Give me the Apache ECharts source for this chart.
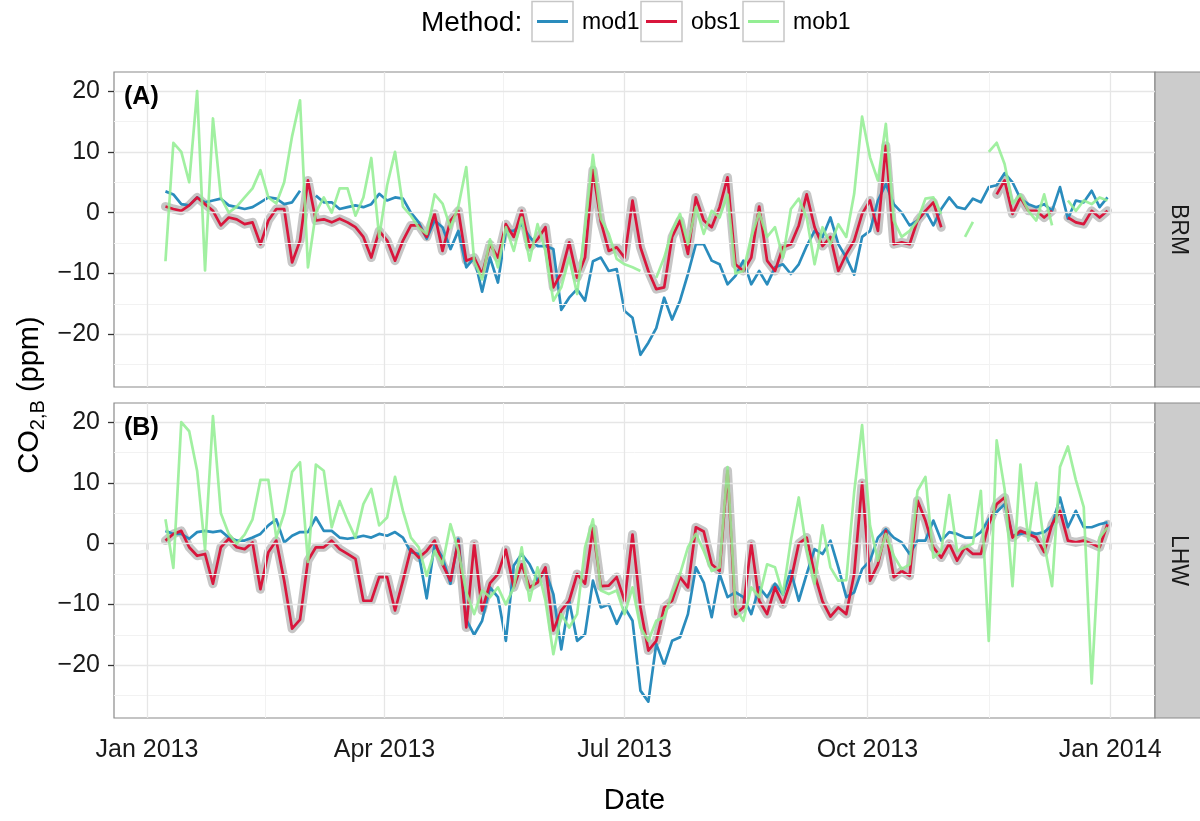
<!DOCTYPE html>
<html>
<head>
<meta charset="utf-8">
<script src="https://cdn.jsdelivr.net/npm/echarts@6/dist/echarts.min.js"></script>
<style>
  html, body { margin: 0; padding: 0; background: #fff; }
  #chart { width: 1200px; height: 821px; }
</style>
</head>
<body>
<div id="chart"></div>
<script>
// sampling of the daily series: every 3rd day from 8 Jan 2013
const firstDay = '2013-01-08';
const stepDays = 3;
const nDays = 120;

const sites = ['BRM', 'LHW'];
const panelTags = ['(A)', '(B)'];
const methods = ['mod1', 'obs1', 'mob1'];
const methodColors = ['#2a8cbd', '#d9163c', '#94ee94'];

const quarterDates = ['2013-01-01', '2013-04-01', '2013-07-01', '2013-10-01', '2014-01-01'];
const quarterLabels = ['Jan 2013', 'Apr 2013', 'Jul 2013', 'Oct 2013', 'Jan 2014'];
const minorDates = ['2013-02-15', '2013-05-16', '2013-08-16', '2013-11-16'];
const yTicks = [-20, -10, 0, 10, 20];
const yMinor = [-25, -15, -5, 5, 15];

// BRM
const brmMod = [
  3.5, 3, 1.4, 1.2, 2.5, 1.7, 2, 2.3, 1.2, 0.9,
  0.6, 0.9, 1.7, 2.5, 2.3, 1.4, 1.7, 3.6, null, 2.8,
  1.7, 1.7, 0.6, 0.9, 1.2, 0.9, 1.4, 3.1, 2, 2.5,
  2.3, 0, -1.6, -4.3, -1.3, -2.4, -6, -3, -9, -7.4,
  -13, -7.4, -11.5, -3, -3, -1.9, -4, -5.5, -5.5, -6,
  -16, -14, -12.6, -14.5, -8, -7.4, -9.6, -9.3, -16.2, -17.3,
  -23.4, -21.4, -19, -14, -17.6, -14.5, -10.1, -5.2, -5.2, -7.9,
  -8.5, -11.8, -10.4, -7.9, -11.8, -9.6, -11.8, -9, -8.5, -10.1,
  -8.5, -5.5, -3, -4, -0.8, -5.2, -7.4, -10.2, -4, -3,
  2, 4.7, 1.4, 0, -2.1, -1.3, 0.3, -2.1, 0.6, 2.5,
  0.9, 0.6, 2.3, 1.7, 4.2, 4.5, 6.5, 5, 2.3, 1.4,
  0.9, 1.4, 0.3, 4.2, -1, 2, 1.7, 3.6, 0.9, 2.5
];
const brmObs = [
  1, 0.6, 0.3, 1.2, 2.5, 1.4, 0.3, -2.1, -0.8, -1.1,
  -1.9, -1.6, -5.2, -1.3, 0.6, 0.6, -8.2, -4.6, 5.3, -1.3,
  -1.1, -1.6, -1, -1.6, -2.4, -4, -7.4, -3, -4.6, -7.9,
  -4.6, -2.1, -2.1, -4, -0.2, -6.3, -1.3, 0.3, -7.9, -7.4,
  -10.1, -5.2, -7.4, -1.9, -4, 0.3, -5.7, -4.4, -2.4, -12.3,
  -9.9, -4.9, -10.7, -7.4, 7, -1.5, -6.3, -5.7, -7.4, 2,
  -5.7, -9.6, -12.6, -12.3, -4, -1.3, -6.8, 2.5, -1.3, -2.4,
  0.9, 5.8, -8.5, -9.6, -7.4, 1, -7.9, -9.6, -5.7, -5.2,
  -2.1, 3, -2.4, -5.5, -4, -9.6, -6.8, -4.6, -0.2, 2,
  -3, 11, -5.2, -4.9, -5.2, -1.3, 0.3, 1.7, -2.4, null,
  null, null, null, null, null, 3, 5.3, -0.2, 2.5, 0.3,
  0.3, -0.8, 0.3, null, -0.8, -1.6, -1.9, 0.3, -0.8, 0.3
];
const brmMob = [
  -8, 11.5, 10, 5, 20, -9.5, 15.5, 2.5, 0, 1,
  2.5, 4, 7, 2.5, 1.5, 5, 12.6, 18.5, -9, 0,
  2.5, 0, 4, 4, -0.5, 2.5, 9, -4, 4.5, 10,
  1, -0.5, -2.5, -3.5, 3, 1.5, -2.5, 1, 7.5, -8,
  -11, -4.4, -9, -2.4, -6.3, -0.8, -7.9, -1.9, -6.3, -14.5,
  -12.3, -7.4, -13.4, -2.4, 9.5, -1, -3.5, -7.6, -8.5, -9,
  -9.6, null, -10.7, -7.4, -3, -0.2, -5.2, 0.9, -3.5, 0.3,
  -0.8, 3, -10, -9.6, -4, 0, -4, -2.4, -7.4, 0.6,
  2.3, -0.8, -8.5, -2.4, -5.2, -1.9, -4, 3.1, 15.8, 9.1,
  5.3, 14.6, -1.3, -4, -3, -1.3, 2.3, 2.5, -0.2, null,
  null, -4, -1.5, null, 10, 11.5, 8, 1.5, 3, 0.3,
  -1.3, 3, -2.1, null, 2, 0.3, 2, 1.4, 2.5, 2
];

// LHW
const lhwMod = [
  2.1, 1.6, 1.6, 0.8, 1.9, 2.1, 1.9, 2.1, 1, 0.5,
  0.5, 1, 1.6, 3, 4, 0.2, 1.3, 1.9, 1.9, 4.3,
  2.1, 2.1, 1, 0.8, 1, 1.3, 1, 1.6, 1.3, 1.9,
  1, -1.4, -1.7, -9, -0.1, -2.3, -6.6, 0.8, -12.5, -15,
  -12.7, -7.2, -8.8, -16, -3.6, -1.7, -3.4, -6.1, -4.5, -8.3,
  -17.4, -9.4, -16, -14.9, -6.1, -10.5, -10, -13.2, -10.5, -12.7,
  -24.2, -26, -16.5, -20, -16, -15.4, -11.6, -3.9, -6.4, -12.1,
  -5, -8.8, -8, -8.8, -11.6, -7.2, -8.8, -6.6, -8.3, -4.5,
  -9.4, -5, -0.9, -1.7, 0.5, -3.9, -8.8, -8, -4.2, -2.8,
  1, 2.4, 1, 0.2, -1.7, 0.5, 0.5, 3.8, 0.5, 1.9,
  1.6, 1, 1, 1.9, 4, 5.2, 6.5, 1.3, 1.6, 1.9,
  1.6, 1.9, 3, 7.6, 2.7, 5.4, 2.7, 2.7, 3.2, 3.5
];
const lhwObs = [
  0.5, 1.6, 2.1, -0.6, -2, -1.7, -6.6, -0.6, 0.8, -0.6,
  -0.9, 0.2, -7.5, -1.4, 0.5, -6.1, -14, -12.5, -2.8, -0.6,
  -0.6, 0.5, -0.9, -1.7, -2.5, -9.4, -9.4, -5.5, -5.5, -11,
  -6.1, -0.9, -2.3, -1.2, 0.5, -3.4, -6.1, 0.5, -13.8, 0,
  -11, -6.5, -5, -1, -7.2, -3.4, -7.2, -6.4, -3.9, -14.3,
  -11, -9.4, -5, -6.6, 2.5, -7, -6.9, -5.5, -9.4, 1.5,
  -10.5, -17.6, -16, -10.5, -9.4, -5.5, -7.2, 2.7, 2, -3.4,
  -4.5, 12, -11.6, -10.5, 0, -9.4, -11.6, -7.2, -10, -6.1,
  0, 1, -5, -9.5, -12, -10.5, -11.6, -5, 10, -6.1,
  -3.4, 2.1, -5.5, -4.5, -5.3, 7.1, 3.8, -0.6, -2.3, 0,
  -2.8, -0.6, -1.7, -1.7, 3.2, 6.5, 7.6, 1, 2.1, 1.6,
  1, -1.4, 3.2, 5.4, 0.5, 0.2, 0.5, 0, -0.6, 3.2
];
const lhwMob = [
  4, -4, 20, 18.5, 12, -1, 21, 5, 1.6, 0,
  1.5, 4, 10.5, 10.5, 1, 5, 11.8, 13.4, -3, 13,
  12, 2.7, 7, 3.8, 1, 6.5, 9, 3, 4.3, 11,
  5.4, 1, -0.6, -5.3, -1.2, -3.4, 3.2, -1.2, -8, -11.6,
  -7.7, -8.8, -7.2, -10, -7.2, -0.6, -9.4, -3.9, -9.4, -18.2,
  -11.6, -13.8, -11.6, -0.6, 4, -7.7, -8.3, -7.7, -11.6, -7.2,
  -13.8, -16, -12.7, -12.1, -8.3, -5, -0.6, 1.6, -1.2, -4.5,
  -3.9, 12.6, -10.5, -12.7, -7.2, -8.8, -3.4, -3.9, -8.3, 0.5,
  7.6, -1, -6.6, 3, -3.9, -6.1, -6, 8.5, 19.5, 3,
  -2.8, 1.6, -2, -4.2, -3.4, 8.7, 11, -2.3, -1.2, 8,
  -1.2, -0.6, 0, 8.7, -16, 17, 9, -7, 13, 0.5,
  10, 0, -7, 12.6, 16, 10.5, 6, -23, 1, 2.7
];

const siteData = [[brmMod, brmObs, brmMob], [lhwMod, lhwObs, lhwMob]];

const DAY = 86400000;
const toMs = d => Date.parse(d + 'T00:00:00Z');
const dayMs = [];
for (let i = 0; i < nDays; i++) dayMs.push(toMs(firstDay) + i * stepDays * DAY);
const quarterMs = quarterDates.map(toMs);
const minorMs = minorDates.map(toMs);
const pts = vals => dayMs.map((t, i) => [t, vals[i]]);

const FONT = '"Liberation Sans", Arial, Helvetica, sans-serif';
const panelTop = [72, 403];
const panelH = 315;
const panelLeft = 114;
const panelW = 1041;
const majorGrid = '#e6e6e6';
const minorGrid = '#f2f2f2';
const borderGrey = '#8a8a8a';

let grids = [], xAxes = [], yAxes = [], series = [], graphics = [];

for (let g = 0; g < 2; g++) {
  const bottom = g === 1;
  grids.push({
    left: panelLeft, top: panelTop[g], width: panelW, height: panelH,
    show: true, backgroundColor: '#fff', borderColor: borderGrey, borderWidth: 1.2
  });
  xAxes.push({
    type: 'value', gridIndex: g,
    min: toMs('2012-12-19') + DAY / 2, max: toMs('2014-01-18'),
    axisLine: { show: false },
    splitLine: { show: false },
    axisTick: { show: bottom, customValues: quarterMs, length: 6, lineStyle: { color: '#333', width: 1.3 } },
    axisLabel: {
      show: bottom, customValues: quarterMs, margin: 20,
      fontSize: 25, fontFamily: FONT, color: '#1a1a1a',
      formatter: v => quarterLabels[quarterMs.indexOf(v)] || ''
    },
    name: bottom ? 'Date' : '',
    nameLocation: 'middle', nameGap: 68,
    nameTextStyle: { fontSize: 29, fontFamily: FONT, color: '#000' }
  });
  yAxes.push({
    type: 'value', gridIndex: g, min: -28.7, max: 23.15,
    axisLine: { show: false },
    splitLine: { show: false },
    axisTick: { show: true, customValues: yTicks, length: 6, lineStyle: { color: '#333', width: 1.3 } },
    axisLabel: {
      customValues: yTicks, margin: 14,
      fontSize: 25, fontFamily: FONT, color: '#1a1a1a',
      formatter: v => String(v).replace('-', '\u2212')
    }
  });

  // background grid lines
  const gl = (c, w) => ({ color: c, width: w, type: 'solid' });
  series.push({
    type: 'line', xAxisIndex: g, yAxisIndex: g, data: [], z: 1, silent: true,
    markLine: {
      silent: true, animation: false, symbol: ['none', 'none'], label: { show: false },
      emphasis: { disabled: true },
      data: [
        ...minorMs.map(v => ({ xAxis: v, lineStyle: gl(minorGrid, 1) })),
        ...yMinor.map(v => ({ yAxis: v, lineStyle: gl(minorGrid, 1) })),
        ...quarterMs.map(v => ({ xAxis: v, lineStyle: gl(majorGrid, 1.3) })),
        ...yTicks.map(v => ({ yAxis: v, lineStyle: gl(majorGrid, 1.3) }))
      ]
    }
  });

  const [mod, obs, mob] = siteData[g];
  // grey uncertainty band around obs1
  series.push({
    type: 'line', xAxisIndex: g, yAxisIndex: g, data: pts(obs), z: 2,
    symbol: 'none', silent: true, animation: false,
    lineStyle: { color: '#c0c0c0', width: 9, cap: 'round', join: 'round', opacity: 0.9 }
  });
  [mod, obs, mob].forEach((vals, k) => {
    series.push({
      name: methods[k], type: 'line', xAxisIndex: g, yAxisIndex: g,
      data: pts(vals), z: 3 + k, symbol: 'none', silent: true, animation: false,
      lineStyle: { color: methodColors[k], width: 2.7, opacity: k === 2 ? 0.88 : 1, join: 'round' }
    });
  });

  // facet strip on the right
  graphics.push({
    type: 'rect', shape: { x: panelLeft + panelW, y: panelTop[g], width: 46, height: panelH },
    style: { fill: '#cccccc', stroke: borderGrey, lineWidth: 1.2 }
  });
  graphics.push({
    type: 'text', x: panelLeft + panelW + 23, y: panelTop[g] + panelH / 2, rotation: -Math.PI / 2,
    style: { text: sites[g], fontSize: 23, fontFamily: FONT, fill: '#1a1a1a', textAlign: 'center', textVerticalAlign: 'middle' }
  });
  graphics.push({
    type: 'text', x: panelLeft + 10, y: panelTop[g] + 25, z: 100,
    style: { text: panelTags[g], fontSize: 25, fontWeight: 'bold', fontFamily: FONT, fill: '#000', textAlign: 'left', textVerticalAlign: 'middle' }
  });
}

// y axis title with subscript
graphics.push({
  type: 'text', x: 30, y: 395, rotation: Math.PI / 2,
  style: {
    text: '{a|CO}{s|2,B}{a| (ppm)}', textAlign: 'center', textVerticalAlign: 'middle',
    rich: {
      a: { fontSize: 29, fontFamily: FONT, fill: '#000', lineHeight: 36 },
      s: { fontSize: 20, fontFamily: FONT, fill: '#000', lineHeight: 14, verticalAlign: 'bottom' }
    }
  }
});

// legend
const legendKeyX = [532, 641, 743];
graphics.push({
  type: 'text', x: 421, y: 23,
  style: { text: 'Method:', fontSize: 28, fontFamily: FONT, fill: '#000', textAlign: 'left', textVerticalAlign: 'middle' }
});
methods.forEach((m, k) => {
  const x0 = legendKeyX[k];
  graphics.push({
    type: 'rect', shape: { x: x0, y: 1.5, width: 41, height: 40 },
    style: { fill: '#fff', stroke: '#c6c6c6', lineWidth: 1.5 }
  });
  graphics.push({
    type: 'line', shape: { x1: x0 + 5, y1: 21.5, x2: x0 + 36, y2: 21.5 },
    style: { stroke: methodColors[k], lineWidth: 3 }
  });
  graphics.push({
    type: 'text', x: x0 + 50, y: 23,
    style: { text: m, fontSize: 23, fontFamily: FONT, fill: '#000', textAlign: 'left', textVerticalAlign: 'middle' }
  });
});

const chart = echarts.init(document.getElementById('chart'));
chart.setOption({
  backgroundColor: '#fff',
  animation: false,
  grid: grids,
  xAxis: xAxes,
  yAxis: yAxes,
  series: series,
  graphic: graphics
});
</script>
</body>
</html>
